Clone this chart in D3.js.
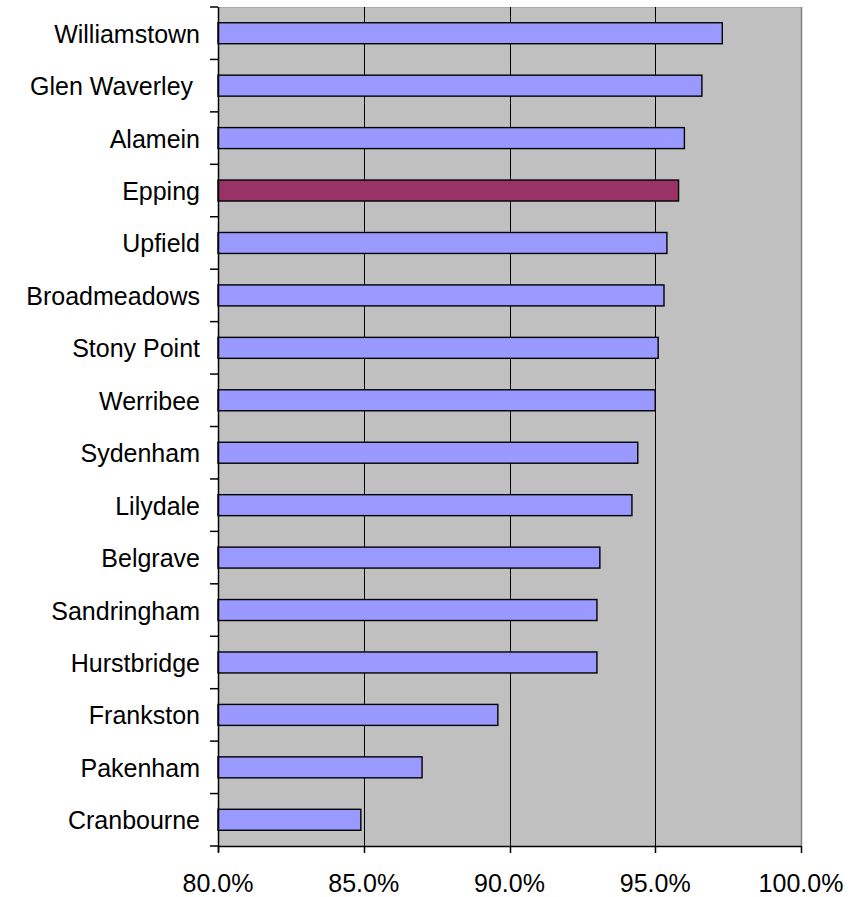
<!DOCTYPE html>
<html>
<head>
<meta charset="utf-8">
<script src="https://cdn.jsdelivr.net/npm/d3@7"></script>
<style>
  html, body { margin: 0; padding: 0; background: #ffffff; }
  svg { display: block; }
  text { font-family: Arial, "Liberation Sans", sans-serif; fill: #000; }
</style>
</head>
<body>
<svg id="chart" width="863" height="897"></svg>
<script>
// Train lines, top to bottom, with their on-time performance (%)
const lines = ["Williamstown", "Glen Waverley ", "Alamein", "Epping", "Upfield",
  "Broadmeadows", "Stony Point", "Werribee", "Sydenham", "Lilydale", "Belgrave",
  "Sandringham", "Hurstbridge", "Frankston", "Pakenham", "Cranbourne"];
const performance = [97.3, 96.6, 96.0, 95.8, 95.4, 95.3, 95.1, 95.0, 94.4, 94.2,
  93.1, 93.0, 93.0, 89.6, 87.0, 84.9];
const highlighted = ["Epping"];
const xTicks = [80, 85, 90, 95, 100];

const svg = d3.select("#chart");
const plotLeft = 218, plotTop = 7, plotRight = 801, plotBottom = 846;

const x = d3.scaleLinear().domain([80, 100]).range([plotLeft, plotRight]);
const y = d3.scaleBand().domain(lines).range([plotTop, plotBottom])
  .paddingInner(0.6).paddingOuter(0.3);

// plot area
svg.append("rect")
  .attr("x", plotLeft).attr("y", plotTop)
  .attr("width", plotRight - plotLeft).attr("height", plotBottom - plotTop)
  .attr("fill", "#c0c0c0");
svg.append("line")
  .attr("x1", plotLeft).attr("x2", plotRight).attr("y1", plotTop + 0.5).attr("y2", plotTop + 0.5)
  .attr("stroke", "#a8a8a8").attr("stroke-width", 1);
svg.append("line")
  .attr("x1", plotRight + 0.5).attr("x2", plotRight + 0.5).attr("y1", plotTop).attr("y2", plotBottom)
  .attr("stroke", "#808080").attr("stroke-width", 1.5);

// vertical gridlines
svg.append("g").selectAll("line")
  .data(xTicks.filter(t => t > 80 && t < 100))
  .join("line")
  .attr("x1", d => Math.round(x(d)) + 0.5).attr("x2", d => Math.round(x(d)) + 0.5)
  .attr("y1", plotTop).attr("y2", plotBottom)
  .attr("stroke", "#000").attr("stroke-width", 1);

// bars
svg.append("g").selectAll("rect")
  .data(lines.map((name, i) => ({ name, value: performance[i] })))
  .join("rect")
  .attr("x", x(80))
  .attr("y", d => y(d.name))
  .attr("width", d => x(d.value) - x(80))
  .attr("height", y.bandwidth())
  .attr("fill", d => highlighted.includes(d.name) ? "#993366" : "#9999ff")
  .attr("stroke", "#000").attr("stroke-width", 1.4);

// y axis: line, ticks at band boundaries, labels
const yAxis = svg.append("g");
yAxis.append("line")
  .attr("x1", plotLeft + 0.5).attr("x2", plotLeft + 0.5).attr("y1", plotTop).attr("y2", plotBottom + 6)
  .attr("stroke", "#000").attr("stroke-width", 1.5);
const boundaries = d3.range(lines.length + 1)
  .map(i => plotTop + i * (plotBottom - plotTop) / lines.length);
yAxis.selectAll("line.tick")
  .data(boundaries)
  .join("line").attr("class", "tick")
  .attr("x1", plotLeft - 8).attr("x2", plotLeft)
  .attr("y1", d => d).attr("y2", d => d)
  .attr("stroke", "#000").attr("stroke-width", 1.5);
yAxis.selectAll("text")
  .data(lines)
  .join("text")
  .attr("x", 200)
  .attr("y", d => y(d) + y.bandwidth() / 2)
  .attr("dy", "0.38em")
  .attr("text-anchor", "end")
  .attr("font-size", 25)
  .style("white-space", "pre")
  .text(d => d);

// x axis
const xAxis = svg.append("g");
xAxis.append("line")
  .attr("x1", plotLeft).attr("x2", plotRight + 1).attr("y1", plotBottom + 0.5).attr("y2", plotBottom + 0.5)
  .attr("stroke", "#000").attr("stroke-width", 1.5);
xAxis.selectAll("line.tick")
  .data(xTicks)
  .join("line").attr("class", "tick")
  .attr("x1", d => Math.round(x(d)) + 0.5).attr("x2", d => Math.round(x(d)) + 0.5)
  .attr("y1", plotBottom).attr("y2", plotBottom + 7)
  .attr("stroke", "#000").attr("stroke-width", 1.5);
xAxis.selectAll("text")
  .data(xTicks)
  .join("text")
  .attr("x", d => x(d))
  .attr("y", 892)
  .attr("text-anchor", "middle")
  .attr("font-size", 25)
  .text(d => d.toFixed(1) + "%");
</script>
</body>
</html>
